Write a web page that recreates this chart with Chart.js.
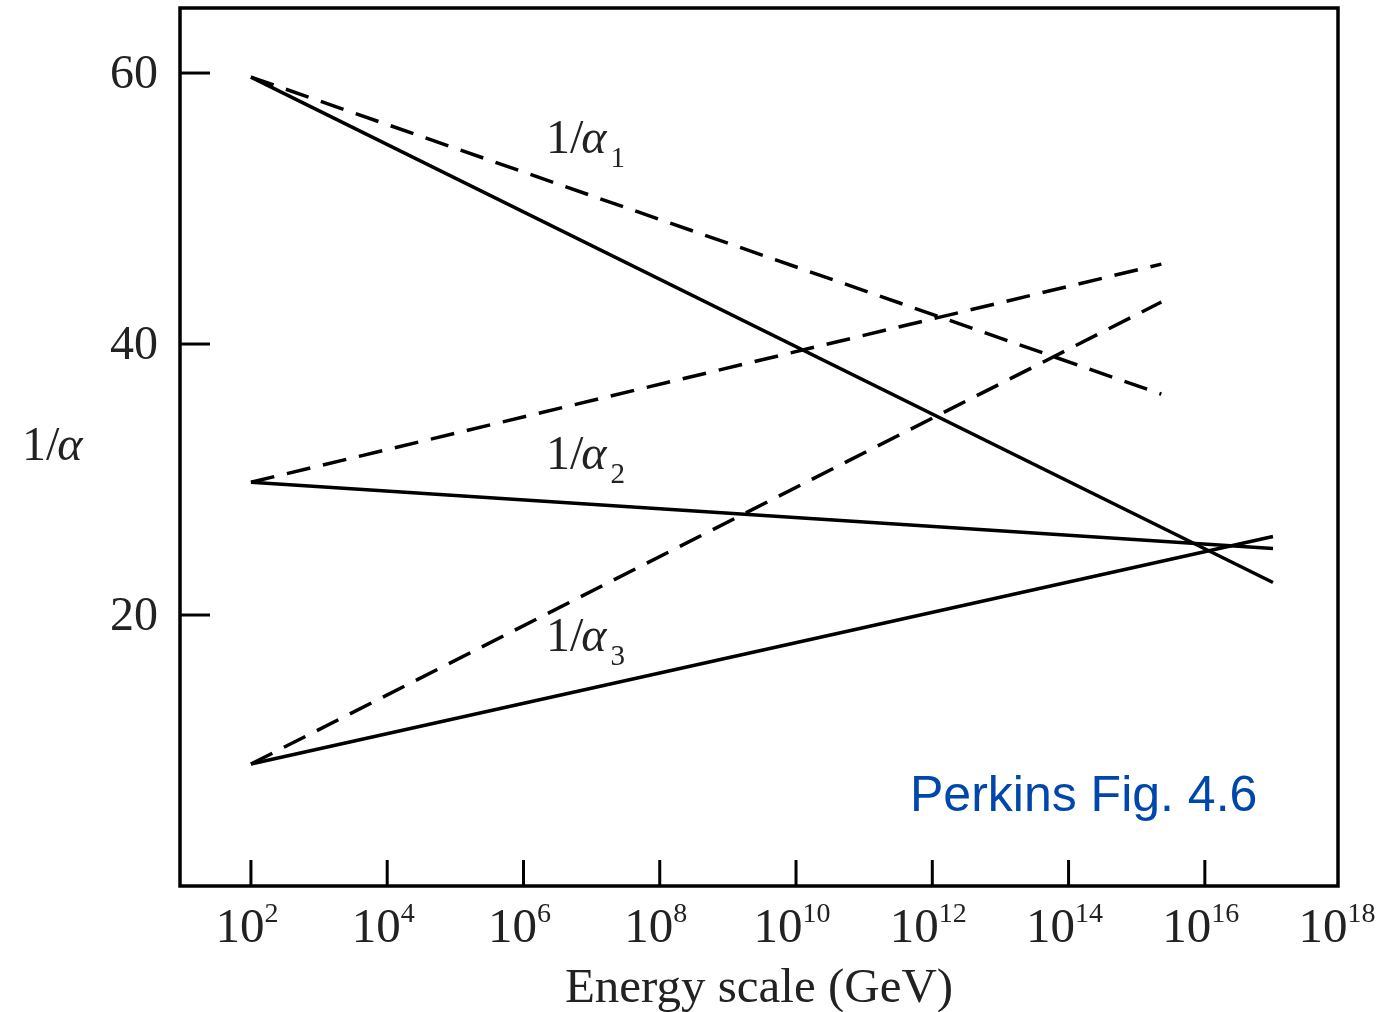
<!DOCTYPE html>
<html>
<head>
<meta charset="utf-8">
<title>Running couplings</title>
<script src="https://cdn.jsdelivr.net/npm/chart.js@4/dist/chart.umd.min.js"></script>
<style>
  body { margin: 0; background: #fff; }
  #wrap { width: 1395px; height: 1012px; }
</style>
</head>
<body>
<div id="wrap"><canvas id="chart" width="1395" height="1012"></canvas></div>
<script>
// axis ticks
const energyTicks = [1e2, 1e4, 1e6, 1e8, 1e10, 1e12, 1e14, 1e16, 1e18];
const energyExponents = ['2', '4', '6', '8', '10', '12', '14', '16', '18'];
const inverseAlphaTicks = [20, 40, 60];

// end points of the lines (GeV)
const solidEnergy = [1e2, 1e17];
const dashedEnergy = [1e2, 2.3e15];

// 1/alpha values, solid = with SUSY, dashed = Standard Model
const alpha1Solid = [59.7, 22.4];
const alpha2Solid = [29.8, 24.9];
const alpha3Solid = [9.0, 25.8];
const alpha1Dashed = [59.7, 36.3];
const alpha2Dashed = [29.8, 45.9];
const alpha3Dashed = [9.0, 43.1];

const serif = '"Liberation Serif", "Times New Roman", serif';

function pairs(xs, ys) {
    return xs.map((x, i) => ({ x: x, y: ys[i] }));
}

function lineSet(label, xs, ys, dashed) {
    return {
        label: label,
        data: pairs(xs, ys),
        showLine: true,
        borderColor: '#000',
        borderWidth: 3.5,
        borderDash: dashed ? [24, 13] : [],
        pointRadius: 0,
        fill: false
    };
}

// draws the frame, inside ticks, labels and annotations
const decorations = {
    id: 'decorations',
    afterDraw(chart) {
        const ctx = chart.ctx;
        const area = chart.chartArea;
        const xs = chart.scales.x;
        const ys = chart.scales.y;
        ctx.save();

        ctx.strokeStyle = '#000';
        ctx.lineWidth = 3.5;
        ctx.strokeRect(area.left, area.top, area.right - area.left, area.bottom - area.top);

        // y ticks
        ctx.lineWidth = 3;
        ctx.fillStyle = '#222';
        ctx.font = '48px ' + serif;
        ctx.textAlign = 'right';
        ctx.textBaseline = 'alphabetic';
        inverseAlphaTicks.forEach(v => {
            const y = ys.getPixelForValue(v);
            ctx.beginPath();
            ctx.moveTo(area.left, y);
            ctx.lineTo(area.left + 30, y);
            ctx.stroke();
            ctx.fillText(String(v), 158, y + 15);
        });

        // x ticks with powers of ten
        energyTicks.forEach((v, i) => {
            const x = xs.getPixelForValue(v);
            if (i < energyTicks.length - 1) {
                ctx.beginPath();
                ctx.moveTo(x, area.bottom);
                ctx.lineTo(x, area.bottom - 26);
                ctx.stroke();
            }
            ctx.font = '49px ' + serif;
            const baseW = ctx.measureText('10').width;
            ctx.font = '28px ' + serif;
            const expW = ctx.measureText(energyExponents[i]).width;
            const start = x - 4 - (baseW + expW) / 2;
            ctx.textAlign = 'left';
            ctx.font = '49px ' + serif;
            ctx.fillText('10', start, area.bottom + 56);
            ctx.font = '28px ' + serif;
            ctx.fillText(energyExponents[i], start + baseW, area.bottom + 36);
        });

        // axis titles
        ctx.textAlign = 'center';
        ctx.font = '49px ' + serif;
        ctx.fillText('Energy scale (GeV)', 759, 1002);

        function inverseAlpha(x, y, sub) {
            ctx.textAlign = 'left';
            ctx.font = '48px ' + serif;
            ctx.fillText('1/', x, y);
            const w = ctx.measureText('1/').width;
            ctx.font = 'italic 48px ' + serif;
            ctx.fillText('\u03b1', x + w - 2, y);
            const w2 = ctx.measureText('\u03b1').width;
            if (sub) {
                ctx.font = '29px ' + serif;
                ctx.fillText(sub, x + w + w2 + 2, y + 14);
            }
        }
        inverseAlpha(22, 460, '');
        inverseAlpha(546, 153, '1');
        inverseAlpha(546, 469, '2');
        inverseAlpha(546, 651, '3');

        ctx.fillStyle = '#0047ab';
        ctx.textAlign = 'left';
        ctx.font = '50px "Liberation Sans", Arial, sans-serif';
        ctx.fillText('Perkins Fig. 4.6', 910, 811);

        ctx.restore();
    }
};

new Chart(document.getElementById('chart'), {
    type: 'scatter',
    data: {
        datasets: [
            lineSet('1/a1 solid', solidEnergy, alpha1Solid, false),
            lineSet('1/a2 solid', solidEnergy, alpha2Solid, false),
            lineSet('1/a3 solid', solidEnergy, alpha3Solid, false),
            lineSet('1/a1 dashed', dashedEnergy, alpha1Dashed, true),
            lineSet('1/a2 dashed', dashedEnergy, alpha2Dashed, true),
            lineSet('1/a3 dashed', dashedEnergy, alpha3Dashed, true)
        ]
    },
    options: {
        responsive: false,
        animation: false,
        layout: { padding: { left: 180, right: 57, top: 8, bottom: 126 } },
        plugins: {
            legend: { display: false },
            tooltip: { enabled: false }
        },
        scales: {
            x: { type: 'logarithmic', min: 9.1, max: 9e17, display: false },
            y: { type: 'linear', min: 0, max: 64.8, display: false }
        }
    },
    plugins: [decorations]
});
</script>
</body>
</html>
